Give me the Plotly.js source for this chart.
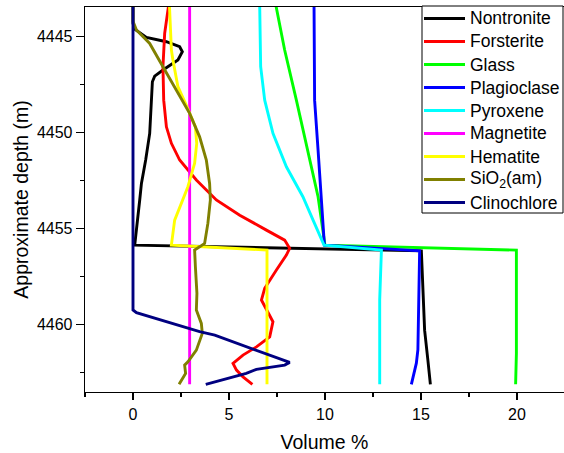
<!DOCTYPE html>
<html>
<head>
<meta charset="utf-8">
<script src="https://cdn.plot.ly/plotly-3.0.1.min.js"></script>
<style>html,body{margin:0;padding:0;background:#fff;}#chart{width:564px;height:453px;}</style>
</head>
<body>
<div id="chart"></div>
<script>
// Depth (m) and volume % for each mineral
var nontroniteDepth = [4443.4, 4444.3, 4444.6, 4445.03, 4445.26, 4445.52, 4445.78, 4446.21, 4446.73, 4447.05, 4447.34, 4448.3, 4450.03, 4451.42, 4452.64, 4453.5, 4455.85, 4456.15, 4460.28, 4461.84, 4463.1];
var nontroniteVol   = [0, 0, 0.09, 0.7, 1.74, 2.43, 2.57, 2.34, 1.56, 1.13, 1.01, 0.96, 0.87, 0.66, 0.44, 0.35, 0.09, 15.02, 15.19, 15.36, 15.49];

var forsteriteDepth = [4443.4, 4444.82, 4446.56, 4448.3, 4449.69, 4450.55, 4451.42, 4452.46, 4453.5, 4454.29, 4455.07, 4455.59, 4456.02, 4456.37, 4457.15, 4458.1, 4458.71, 4459.23, 4459.84, 4460.63, 4461.15, 4461.58, 4462.01, 4462.36, 4462.71, 4463.1];
var forsteriteVol   = [1.85, 1.65, 1.56, 1.6, 1.74, 2.0, 2.43, 3.3, 4.34, 5.56, 6.95, 7.9, 8.16, 7.99, 7.47, 6.86, 6.69, 6.95, 7.29, 7.12, 6.43, 5.73, 5.21, 5.39, 5.73, 6.22];

var glassDepth = [4443.4, 4445.69, 4448.3, 4450.9, 4453.33, 4455.85, 4456.11, 4461.5, 4463.1];
var glassVol   = [7.45, 7.9, 8.51, 9.11, 9.64, 10.0, 19.97, 19.97, 19.93];

var plagioclaseDepth = [4443.4, 4448.3, 4450.9, 4453.5, 4455.85, 4456.15, 4461.3, 4462.0, 4463.1];
var plagioclaseVol   = [9.43, 9.46, 9.64, 9.81, 9.97, 14.93, 14.84, 14.76, 14.5];

var pyroxeneDepth = [4443.4, 4446.56, 4448.3, 4449.17, 4450.03, 4451.77, 4453.33, 4454.55, 4455.85, 4456.11, 4458.7, 4463.1];
var pyroxeneVol   = [6.6, 6.65, 6.86, 7.08, 7.29, 7.99, 8.85, 9.38, 9.95, 12.94, 12.85, 12.85];

var magnetiteDepth = [4443.4, 4463.1];
var magnetiteVol   = [2.95, 2.95];

var hematiteDepth = [4443.4, 4445.69, 4446.21, 4447.6, 4448.5, 4449.69, 4450.55, 4451.59, 4452.81, 4453.5, 4454.55, 4455.85, 4456.11, 4463.1];
var hematiteVol   = [1.9, 2.0, 2.08, 2.34, 2.75, 3.25, 3.32, 3.21, 2.86, 2.6, 2.17, 2.0, 6.98, 6.98];

var sio2Depth = [4443.4, 4444.2, 4444.65, 4445.0, 4445.35, 4446.56, 4447.78, 4448.99, 4450.21, 4451.42, 4452.64, 4453.5, 4454.72, 4455.76, 4455.94, 4456.11, 4456.98, 4458.36, 4459.23, 4459.93, 4460.45, 4461.32, 4461.93, 4462.1, 4462.53, 4463.1];
var sio2Vol   = [0, 0, 0.18, 0.5, 0.87, 1.56, 2.26, 2.95, 3.47, 3.82, 3.99, 4.03, 3.9, 3.73, 3.47, 3.21, 3.25, 3.33, 3.3, 3.56, 3.61, 3.3, 2.86, 2.69, 2.74, 2.4];

var clinochloreDepth = [4443.4, 4459.23, 4459.37, 4460.36, 4460.54, 4461.96, 4462.1, 4462.32, 4462.53, 4463.1];
var clinochloreVol   = [0, 0, 0.18, 3.47, 4.26, 8.16, 7.9, 6.43, 5.9, 3.79];

var names  = ["Nontronite", "Forsterite", "Glass", "Plagioclase", "Pyroxene", "Magnetite", "Hematite", "SiO<sub>2</sub>(am)", "Clinochlore"];
var colors = ["#000000", "#ff0000", "#00ff00", "#0000ff", "#00ffff", "#ff00ff", "#ffff00", "#808000", "#000080"];
var xs = [nontroniteVol, forsteriteVol, glassVol, plagioclaseVol, pyroxeneVol, magnetiteVol, hematiteVol, sio2Vol, clinochloreVol];
var ys = [nontroniteDepth, forsteriteDepth, glassDepth, plagioclaseDepth, pyroxeneDepth, magnetiteDepth, hematiteDepth, sio2Depth, clinochloreDepth];

var xTicks = [0, 5, 10, 15, 20];
var yTicks = [4445, 4450, 4455, 4460];

var traces = names.map(function(n, i) {
  return {x: xs[i], y: ys[i], name: n, type: "scatter", mode: "lines",
          line: {color: colors[i], width: 2.9}, showlegend: false};
});

var font = "Liberation Sans, Arial, sans-serif";

// Plot-area geometry (pixels) used to place the legend box in paper coordinates
var W = 564, H = 453, mL = 85, mR = 0, mT = 7, mB = 61;
var pw = W - mL - mR, ph = H - mT - mB;
function px(x) { return (x - mL) / pw; }
function py(y) { return 1 - (y - mT) / ph; }

var shapes = [{type: "rect", xref: "paper", yref: "paper",
               x0: px(422), x1: px(563), y0: py(213), y1: py(6),
               line: {color: "#000", width: 1}, fillcolor: "#fff", layer: "above"}];
var annotations = [];
names.forEach(function(n, i) {
  var yy = 18.5 + 23 * i;
  shapes.push({type: "line", xref: "paper", yref: "paper",
               x0: px(424), x1: px(465), y0: py(yy), y1: py(yy),
               line: {color: colors[i], width: 2.9}, layer: "above"});
  annotations.push({xref: "paper", yref: "paper", x: px(468), y: py(yy),
                    xanchor: "left", yanchor: "middle", showarrow: false, text: n,
                    font: {family: font, size: 17.5, color: "#000"}});
});

var layout = {
  width: W, height: H,
  margin: {l: mL, r: mR, t: mT, b: mB},
  paper_bgcolor: "#fff", plot_bgcolor: "#fff",
  font: {family: font, color: "#000", size: 16},
  showlegend: false,
  shapes: shapes,
  annotations: annotations,
  xaxis: {range: [-2.5, 22.45], tickvals: xTicks, ticktext: xTicks.map(String),
          showgrid: false, zeroline: false, showline: true, linecolor: "#000", linewidth: 1.3,
          mirror: true, ticks: "outside", ticklen: 7, tickwidth: 1.3, tickcolor: "#000",
          minor: {dtick: 2.5, tick0: 0, ticks: "outside", ticklen: 4, tickwidth: 1.3, tickcolor: "#000", showgrid: false},
          tickfont: {size: 16},
          title: {text: "Volume %", font: {size: 19.5}, standoff: 13}},
  yaxis: {range: [4463.5, 4443.45], tickvals: yTicks, ticktext: yTicks.map(String),
          showgrid: false, zeroline: false, showline: true, linecolor: "#000", linewidth: 1.3,
          ticks: "outside", ticklen: 8, tickwidth: 1.3, tickcolor: "#000",
          minor: {dtick: 2.5, tick0: 4445, ticks: "outside", ticklen: 4, tickwidth: 1.3, tickcolor: "#000", showgrid: false},
          tickfont: {size: 16},
          title: {text: "Approximate depth (m)", font: {size: 19.5}, standoff: 3}}
};

Plotly.newPlot("chart", traces, layout, {staticPlot: true, displayModeBar: false});
</script>
</body>
</html>
